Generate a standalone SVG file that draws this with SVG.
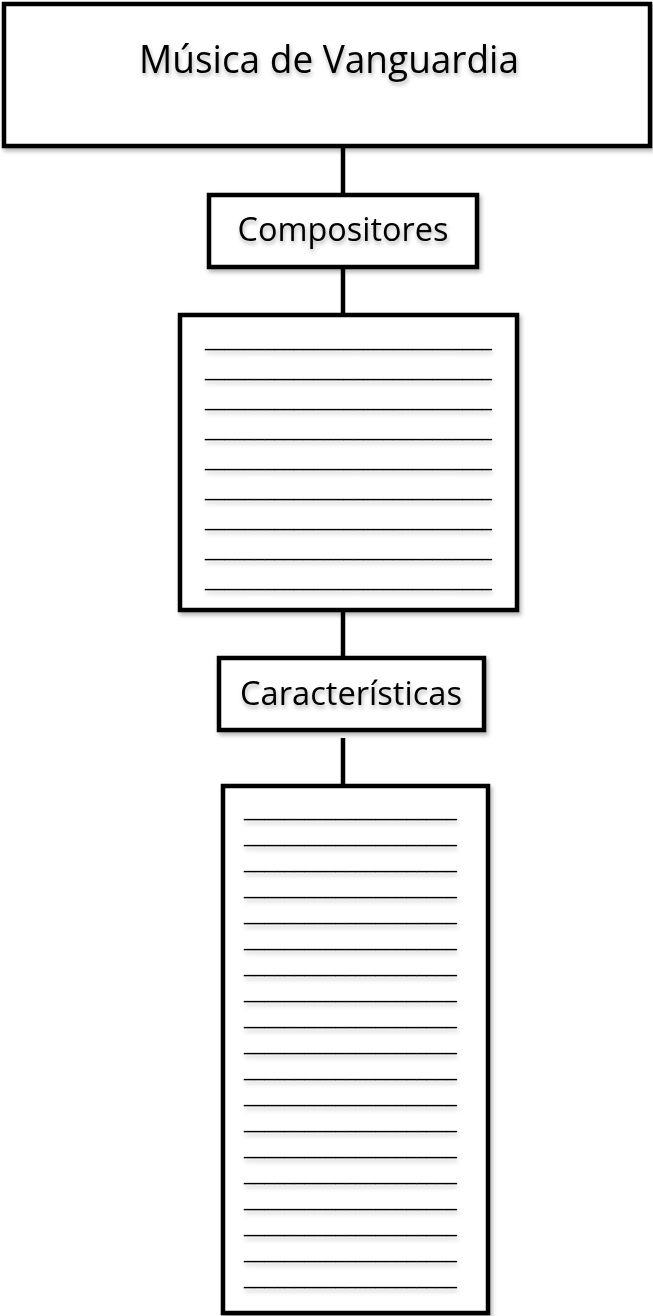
<svg xmlns="http://www.w3.org/2000/svg" width="653" height="1316" viewBox="0 0 653 1316">
<defs>
<filter id="sh" x="-10%" y="-10%" width="120%" height="130%">
<feDropShadow dx="2" dy="3" stdDeviation="2" flood-color="#000" flood-opacity="0.3"/>
</filter>
<filter id="tsh" x="-5%" y="-30%" width="110%" height="180%">
<feDropShadow dx="1" dy="3" stdDeviation="2" flood-color="#000" flood-opacity="0.3"/>
</filter>
</defs>
<style>
.box{fill:#fff;stroke:#000;stroke-width:4.5;filter:url(#sh)}
.lbl{font-family:"Open Sans","Liberation Sans",sans-serif;fill:#000;text-anchor:middle;filter:url(#tsh)}
.ln{font-family:"Liberation Sans",Arial,sans-serif;font-size:22px;fill:#000;filter:url(#tsh)}
.con{stroke:#000;stroke-width:4.5;fill:none}
</style>
<rect width="653" height="1316" fill="#fff"/>
<g id="connectors">
<line class="con" x1="343" y1="147" x2="343" y2="195"/>
<line class="con" x1="343" y1="267" x2="343" y2="315"/>
<line class="con" x1="343" y1="610" x2="343" y2="658"/>
<line class="con" x1="343" y1="738" x2="343" y2="785"/>
</g>
<g id="musica">
<rect class="box" x="4" y="4" width="646" height="142"/>
<text class="lbl" x="329" y="73" font-size="38" textLength="380" lengthAdjust="spacingAndGlyphs">Música de Vanguardia</text>
</g>
<g id="compositores">
<rect class="box" x="209" y="195" width="268" height="72"/>
<text class="lbl" x="343" y="241" font-size="33" textLength="211" lengthAdjust="spacingAndGlyphs">Compositores</text>
</g>
<g id="lista-compositores">
<rect class="box" x="180" y="315" width="337" height="295"/>
<g class="ln">
<text x="205" y="346" textLength="287" lengthAdjust="spacingAndGlyphs">_____________________________</text>
<text x="205" y="376" textLength="287" lengthAdjust="spacingAndGlyphs">_____________________________</text>
<text x="205" y="406" textLength="287" lengthAdjust="spacingAndGlyphs">_____________________________</text>
<text x="205" y="436" textLength="287" lengthAdjust="spacingAndGlyphs">_____________________________</text>
<text x="205" y="466" textLength="287" lengthAdjust="spacingAndGlyphs">_____________________________</text>
<text x="205" y="496" textLength="287" lengthAdjust="spacingAndGlyphs">_____________________________</text>
<text x="205" y="526" textLength="287" lengthAdjust="spacingAndGlyphs">_____________________________</text>
<text x="205" y="556" textLength="287" lengthAdjust="spacingAndGlyphs">_____________________________</text>
<text x="205" y="586" textLength="287" lengthAdjust="spacingAndGlyphs">_____________________________</text>
</g>
</g>
<g id="caracteristicas">
<rect class="box" x="219" y="658" width="265" height="72"/>
<text class="lbl" x="351" y="705" font-size="33" textLength="222" lengthAdjust="spacingAndGlyphs">Características</text>
</g>
<g id="lista-caracteristicas">
<rect class="box" x="223" y="786" width="265" height="527"/>
<g class="ln">
<text x="244" y="816" textLength="213" lengthAdjust="spacingAndGlyphs">_____________________</text>
<text x="244" y="842" textLength="213" lengthAdjust="spacingAndGlyphs">_____________________</text>
<text x="244" y="868" textLength="213" lengthAdjust="spacingAndGlyphs">_____________________</text>
<text x="244" y="894" textLength="213" lengthAdjust="spacingAndGlyphs">_____________________</text>
<text x="244" y="920" textLength="213" lengthAdjust="spacingAndGlyphs">_____________________</text>
<text x="244" y="946" textLength="213" lengthAdjust="spacingAndGlyphs">_____________________</text>
<text x="244" y="972" textLength="213" lengthAdjust="spacingAndGlyphs">_____________________</text>
<text x="244" y="998" textLength="213" lengthAdjust="spacingAndGlyphs">_____________________</text>
<text x="244" y="1024" textLength="213" lengthAdjust="spacingAndGlyphs">_____________________</text>
<text x="244" y="1050" textLength="213" lengthAdjust="spacingAndGlyphs">_____________________</text>
<text x="244" y="1076" textLength="213" lengthAdjust="spacingAndGlyphs">_____________________</text>
<text x="244" y="1102" textLength="213" lengthAdjust="spacingAndGlyphs">_____________________</text>
<text x="244" y="1128" textLength="213" lengthAdjust="spacingAndGlyphs">_____________________</text>
<text x="244" y="1154" textLength="213" lengthAdjust="spacingAndGlyphs">_____________________</text>
<text x="244" y="1180" textLength="213" lengthAdjust="spacingAndGlyphs">_____________________</text>
<text x="244" y="1206" textLength="213" lengthAdjust="spacingAndGlyphs">_____________________</text>
<text x="244" y="1232" textLength="213" lengthAdjust="spacingAndGlyphs">_____________________</text>
<text x="244" y="1258" textLength="213" lengthAdjust="spacingAndGlyphs">_____________________</text>
<text x="244" y="1284" textLength="213" lengthAdjust="spacingAndGlyphs">_____________________</text>
</g>
</g>
</svg>
